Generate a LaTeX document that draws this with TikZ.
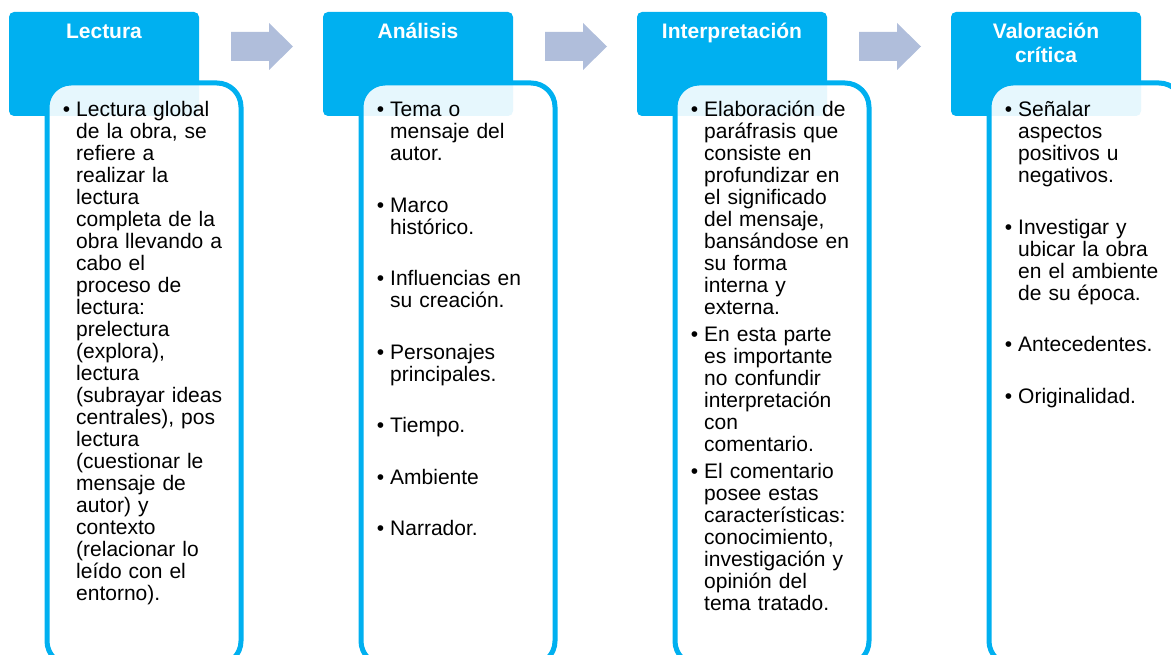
\documentclass[tikz,border=0pt]{standalone}
\usepackage{fontspec}
\setmainfont{Liberation Sans}
\usepackage{xcolor}
\usetikzlibrary{positioning,calc}

\definecolor{hdrcyan}{HTML}{00B0F0}
\definecolor{arrowgray}{RGB}{176,190,219}

\newcommand{\itm}{\leavevmode\llap{•\hspace{6pt}}}

\begin{document}
\begin{tikzpicture}[
    x=1pt, y=-1pt,
    header/.style={
        rectangle, rounded corners=5pt,
        minimum width=190pt, minimum height=104pt,
        inner sep=0pt, outer sep=0pt,
        fill=hdrcyan
    },
    title/.style={
        text width=190pt, align=center, inner sep=0pt,
        font=\bfseries\fontsize{21}{24}\selectfont, text=white
    },
    bodybox/.style={
        rectangle, rounded corners=24pt, draw=hdrcyan, line width=5pt,
        minimum width=194pt, minimum height=582pt,
        inner sep=0pt, outer sep=0pt,
        fill=white, fill opacity=0.9
    },
    itemtext/.style={
        text width=175pt, align=left, inner sep=0pt,
        font=\fontsize{21}{22}\selectfont
    },
    flowarrow/.style={fill=arrowgray}
]
\useasboundingbox (0,0) rectangle (1171,655);
\clip (0,0) rectangle (1171,655);

% --- Headers ---
\node[header] (hdrA) at (104,64) {};
\node[header, right=124pt of hdrA] (hdrB) {};
\node[header, right=124pt of hdrB] (hdrC) {};
\node[header, right=124pt of hdrC] (hdrD) {};

\node[title, anchor=base] (ttlA) at ([yshift=-27pt]hdrA.north) {Lectura};
\node[title, anchor=base] (ttlB) at ([yshift=-27pt]hdrB.north) {Análisis};
\node[title, anchor=base] (ttlC) at ([yshift=-27pt]hdrC.north) {Interpretación};
\node[title, anchor=base] (ttlD) at ([yshift=-27pt]hdrD.north) {Valoración\\crítica};

% --- Step arrows ---
\fill[flowarrow] ([shift={(32,20)}]hdrA.north east) -- ++(38,0) -- ++(0,-9) -- ++(24,23.5) -- ++(-24,23.5) -- ++(0,-9) -- ++(-38,0) -- cycle;
\fill[flowarrow] ([shift={(32,20)}]hdrB.north east) -- ++(38,0) -- ++(0,-9) -- ++(24,23.5) -- ++(-24,23.5) -- ++(0,-9) -- ++(-38,0) -- cycle;
\fill[flowarrow] ([shift={(32,20)}]hdrC.north east) -- ++(38,0) -- ++(0,-9) -- ++(24,23.5) -- ++(-24,23.5) -- ++(0,-9) -- ++(-38,0) -- cycle;

% --- Body boxes ---
\node[bodybox, anchor=north west] (bodyA) at ([shift={(38,71)}]hdrA.north west) {};
\node[bodybox, anchor=north west] (bodyB) at ([shift={(38,71)}]hdrB.north west) {};
\node[bodybox, anchor=north west] (bodyC) at ([shift={(38,71)}]hdrC.north west) {};
\node[bodybox, anchor=north west] (bodyD) at ([shift={(38,71)}]hdrD.north west) {};

% --- Bullet texts ---
\node[itemtext, anchor=base west] (txtA) at ([shift={(67,105)}]hdrA.north west) {%
\itm Lectura global\\de la obra, se\\refiere a\\realizar la\\lectura\\completa de la\\obra llevando a\\cabo el\\proceso de\\lectura:\\prelectura\\(explora),\\lectura\\(subrayar ideas\\centrales), pos\\lectura\\(cuestionar le\\mensaje de\\autor) y\\contexto\\(relacionar lo\\leído con el\\entorno).};

\node[itemtext, anchor=base west] (txtB) at ([shift={(67,105)}]hdrB.north west) {%
\itm Tema o\\mensaje del\\autor.\\[29.5pt]%
\itm Marco\\histórico.\\[29.5pt]%
\itm Influencias en\\su creación.\\[29.5pt]%
\itm Personajes\\principales.\\[29.5pt]%
\itm Tiempo.\\[29.5pt]%
\itm Ambiente\\[29.5pt]%
\itm Narrador.};

\node[itemtext, anchor=base west] (txtC) at ([shift={(67,105)}]hdrC.north west) {%
\itm Elaboración de\\paráfrasis que\\consiste en\\profundizar en\\el significado\\del mensaje,\\bansándose en\\su forma\\interna y\\externa.\\[4.8pt]%
\itm En esta parte\\es importante\\no confundir\\interpretación\\con\\comentario.\\[4.8pt]%
\itm El comentario\\posee estas\\características:\\conocimiento,\\investigación y\\opinión del\\tema tratado.};

\node[itemtext, anchor=base west] (txtD) at ([shift={(67,105)}]hdrD.north west) {%
\itm Señalar\\aspectos\\positivos u\\negativos.\\[29.5pt]%
\itm Investigar y\\ubicar la obra\\en el ambiente\\de su época.\\[29.5pt]%
\itm Antecedentes.\\[29.5pt]%
\itm Originalidad.};

\end{tikzpicture}
\end{document}
